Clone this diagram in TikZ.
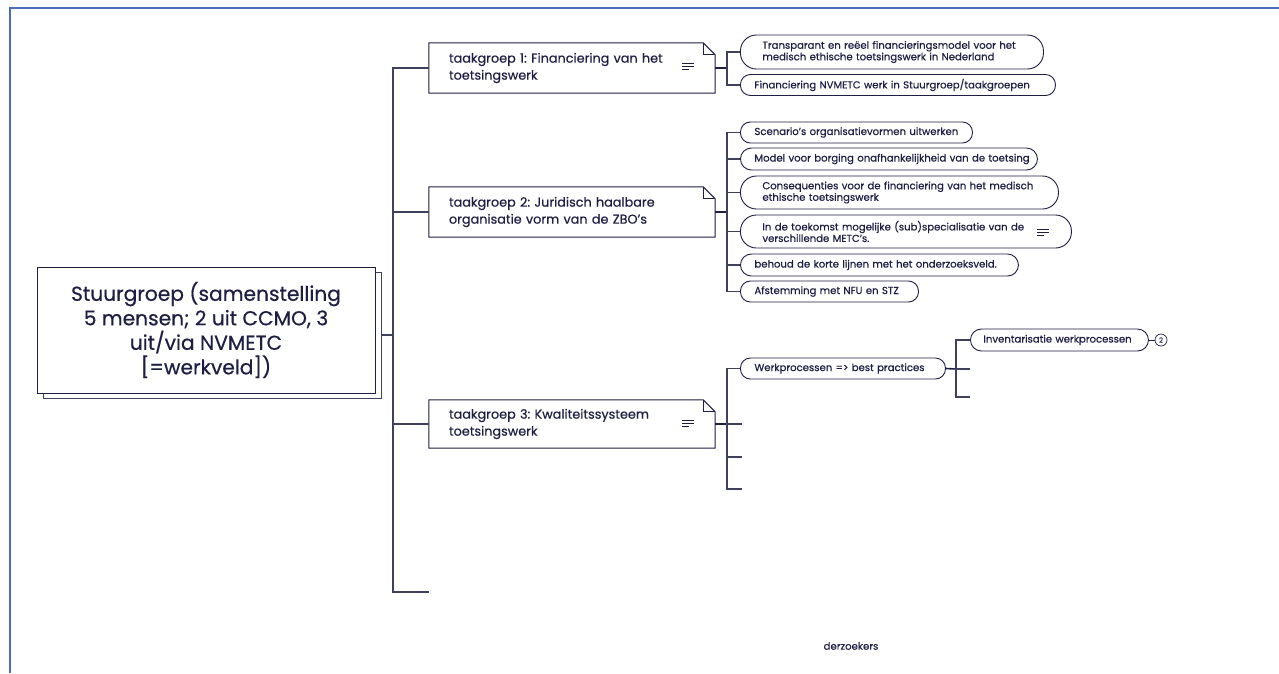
\documentclass[tikz,border=0pt]{standalone}
\usepackage{fontspec}
\setmainfont{Poppins}[FakeBold=0.5]
\frenchspacing
\definecolor{navy}{HTML}{1E1E45}
\definecolor{frameblue}{HTML}{4A6DC0}
\definecolor{gline}{HTML}{3F3F5E}
\newcommand\pillfont{\fontsize{10.1}{11.5}\selectfont}
\newcommand\tgfont{\fontsize{12.8}{17}\selectfont}
\tikzset{
  conn/.style={draw=gline, line width=1.1pt},
  connd/.style={draw=navy, line width=1.6pt},
  pill/.style={draw=navy, line width=0.9pt, fill=white, anchor=west, align=left, font=\pillfont, inner ysep=0pt, text=navy},
  tgbox/.style={minimum width=286pt, align=left, inner xsep=20pt, text width=246pt, font=\tgfont, text=navy},
  menuicon/.pic={\draw[navy, line width=0.8pt] (-6,-3) -- (6,-3) (-6,0) -- (6,0) (-6,3) -- (1,3);}
}
\begin{document}
\begin{tikzpicture}[x=1pt,y=-1pt]
\useasboundingbox (0,0) rectangle (1279,673);
\fill[white] (0,0) rectangle (1279,673);
\draw[frameblue, line width=2pt] (10,673) -- (10,8) -- (1279,8);

% central node
\node[draw=gline, fill=white, line width=1pt, minimum width=338pt, minimum height=126pt] (sgs) at (212,335) {};
\node[draw=navy, fill=white, line width=1pt, minimum width=338pt, minimum height=126pt, align=center, text=navy,
      font=\fontsize{20.2}{24.5}\selectfont] (sg) at (206,330)
  {Stuurgroep (samenstelling\\5 mensen; 2 uit CCMO, 3\\uit/via NVMETC\\{[}=werkveld{]})};

% taakgroep boxes
\node[tgbox, minimum height=50pt] (t1) at (572,68) {taakgroep 1: Financiering van het\\toetsingswerk};
\node[tgbox, minimum height=50pt] (t2) at (572,212) {taakgroep 2: Juridisch haalbare\\organisatie vorm van de ZBO's};
\node[tgbox, minimum height=48pt] (t3) at (572,424) {taakgroep 3: Kwaliteitssysteem\\toetsingswerk};
\foreach \t in {t1,t2,t3}{
  \draw[navy, line width=1pt] (\t.north west) -- ([xshift=-12pt]\t.north east) -- ([yshift=-12pt]\t.north east) -- (\t.south east) -- (\t.south west) -- cycle;
  \draw[navy, line width=0.8pt] ([xshift=-12pt]\t.north east) -- ([xshift=-12pt,yshift=-12pt]\t.north east) -- ([yshift=-12pt]\t.north east);
}
\pic at (688,66) {menuicon};
\pic at (688,423) {menuicon};

% trunk
\coordinate (trunkB) at (393,592);
\coordinate (trunkE) at (429,592);
\draw[conn] (t1.west) -| (trunkB) -- (trunkE);
\draw[conn] (t2.west) -- (t2.west -| trunkB);
\draw[conn] (t3.west) -- (t3.west -| trunkB);
\draw[conn] (sgs.east) -- (sgs.east -| trunkB);

% taakgroep 1 children
\node[pill, inner xsep=22pt, text width=259pt, minimum height=34pt, rounded corners=16pt] (p11) at (740,52)
  {\mbox{Transparant en reëel financieringsmodel voor het}\\\mbox{medisch ethische toetsingswerk in Nederland}};
\node[pill, inner xsep=14pt, text width=287pt, minimum height=21pt, rounded corners=10pt] (p12) at (740,85)
  {\mbox{Financiering NVMETC werk in Stuurgroep/taakgroepen}};
\coordinate (j1) at (727,68);
\draw[connd] (t1.east) -- (j1);
\draw[conn] (p11.west) -| (j1) |- (p12.west);

% taakgroep 2 children
\node[pill, inner xsep=14pt, text width=204pt, minimum height=21pt, rounded corners=10pt] (p21) at (740,132.5)
  {\mbox{Scenario's organisatievormen uitwerken}};
\node[pill, inner xsep=14pt, text width=269pt, minimum height=22pt, rounded corners=11pt] (p22) at (740,159)
  {\mbox{Model voor borging onafhankelijkheid van de toetsing}};
\node[pill, inner xsep=22pt, text width=274pt, minimum height=33pt, rounded corners=16pt] (p23) at (740,192.5)
  {\mbox{Consequenties voor de financiering van het medisch}\\\mbox{ethische toetsingswerk}};
\node[pill, inner xsep=22pt, text width=287pt, minimum height=33pt, rounded corners=16pt] (p24) at (740,231.5)
  {\mbox{In de toekomst mogelijke (sub)specialisatie van de}\\\mbox{verschillende METC's.}};
\pic at (1043,232) {menuicon};
\node[pill, inner xsep=14pt, text width=250pt, minimum height=22pt, rounded corners=11pt] (p25) at (740,265)
  {\mbox{behoud de korte lijnen met het onderzoeksveld.}};
\node[pill, inner xsep=14pt, text width=150pt, minimum height=21pt, rounded corners=10pt] (p26) at (740,291.5)
  {\mbox{Afstemming met NFU en STZ}};
\coordinate (j2) at (727,212);
\draw[connd] (t2.east) -- (j2);
\draw[conn] (p21.west) -| (j2) |- (p26.west);
\foreach \p in {p22,p23,p24,p25}{\draw[conn] (\p.west) -- (\p.west -| j2);}

% taakgroep 3 children
\node[pill, inner xsep=14pt, text width=177pt, minimum height=21pt, rounded corners=10pt] (p31) at (740,368.5)
  {\mbox{Werkprocessen => best practices}};
\coordinate (j3) at (727,424);
\coordinate (s1) at (742,424);
\coordinate (s2) at (742,457);
\coordinate (s3) at (742,489);
\draw[connd] (t3.east) -- (j3);
\draw[conn] (p31.west) -| (j3) |- (s3);
\draw[conn] (j3) -- (s1);
\draw[conn] (j3 |- s2) -- (s2);

\node[pill, inner xsep=13pt, text width=152pt, minimum height=22pt, rounded corners=11pt] (p311) at (970,340)
  {\mbox{Inventarisatie werkprocessen}};
\coordinate (j4) at (956,369);
\coordinate (s4) at (970,369);
\coordinate (s5) at (970,397);
\draw[connd] (p31.east) -- (j4);
\draw[conn] (p311.west) -| (j4) |- (s5);
\draw[conn] (j4) -- (s4);
\node[circle, draw=navy, line width=0.7pt, inner sep=0pt, minimum size=12pt, font=\fontsize{7}{8}\selectfont, text=gline] (c2) at (1161,340) {2};
\draw[navy, line width=0.8pt] (p311.east) -- (c2.west);

\node[font=\pillfont, text=navy] (dz) at (851,646) {derzoekers};
\end{tikzpicture}
\end{document}
